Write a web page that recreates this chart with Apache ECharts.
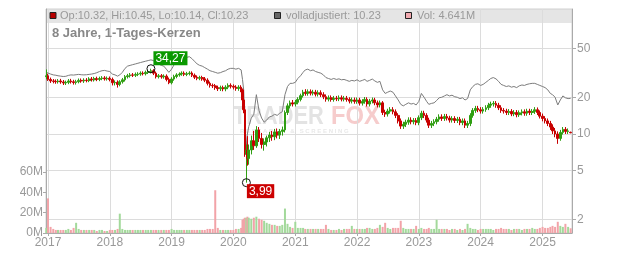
<!DOCTYPE html>
<html><head><meta charset="utf-8">
<script src="https://cdn.jsdelivr.net/npm/echarts@6/dist/echarts.min.js"></script>
<style>html,body{margin:0;padding:0;background:#fff}#c{width:632px;height:253px}</style>
</head><body><div id="c"></div>
<script>
const dates = ['2016-12-22','2017-01-01','2017-01-16','2017-02-01','2017-02-16','2017-03-01','2017-03-16','2017-04-01','2017-04-16','2017-05-01','2017-05-16','2017-06-01','2017-06-16','2017-07-01','2017-07-16','2017-08-01','2017-08-16','2017-09-01','2017-09-16','2017-10-01','2017-10-16','2017-11-01','2017-11-16','2017-12-01','2017-12-16',
'2018-01-01','2018-01-16','2018-02-01','2018-02-16','2018-03-01','2018-03-16','2018-04-01','2018-04-16','2018-05-01','2018-05-16','2018-06-01','2018-06-16','2018-07-01','2018-07-16','2018-08-01','2018-08-16','2018-09-01','2018-09-16','2018-10-01','2018-10-16','2018-11-01','2018-11-16','2018-12-01','2018-12-16',
'2019-01-01','2019-01-16','2019-02-01','2019-02-16','2019-03-01','2019-03-16','2019-04-01','2019-04-16','2019-05-01','2019-05-16','2019-06-01','2019-06-16','2019-07-01','2019-07-16','2019-08-01','2019-08-16','2019-09-01','2019-09-16','2019-10-01','2019-10-16','2019-11-01','2019-11-16','2019-12-01','2019-12-16',
'2020-01-01','2020-01-16','2020-02-01','2020-02-16','2020-02-24','2020-03-02','2020-03-09','2020-03-18','2020-03-24','2020-04-01','2020-04-16','2020-05-01','2020-05-16','2020-06-01','2020-06-16','2020-07-01','2020-07-16','2020-08-01','2020-08-16','2020-09-01','2020-09-16','2020-10-01','2020-10-16','2020-11-01','2020-11-16','2020-12-01','2020-12-16',
'2021-01-01','2021-01-16','2021-02-01','2021-02-16','2021-03-01','2021-03-16','2021-04-01','2021-04-16','2021-05-01','2021-05-16','2021-06-01','2021-06-16','2021-07-01','2021-07-16','2021-08-01','2021-08-16','2021-09-01','2021-09-16','2021-10-01','2021-10-16','2021-11-01','2021-11-16','2021-12-01','2021-12-16',
'2022-01-01','2022-01-16','2022-02-01','2022-02-16','2022-03-01','2022-03-16','2022-04-01','2022-04-16','2022-05-01','2022-05-16','2022-06-01','2022-06-16','2022-07-01','2022-07-16','2022-08-01','2022-08-16','2022-09-01','2022-09-16','2022-10-01','2022-10-16','2022-11-01','2022-11-16','2022-12-01','2022-12-16',
'2023-01-01','2023-01-16','2023-02-01','2023-02-16','2023-03-01','2023-03-16','2023-04-01','2023-04-16','2023-05-01','2023-05-16','2023-06-01','2023-06-16','2023-07-01','2023-07-16','2023-08-01','2023-08-16','2023-09-01','2023-09-16','2023-10-01','2023-10-16','2023-11-01','2023-11-16','2023-12-01','2023-12-16',
'2024-01-01','2024-01-16','2024-02-01','2024-02-16','2024-03-01','2024-03-16','2024-04-01','2024-04-16','2024-05-01','2024-05-16','2024-06-01','2024-06-16','2024-07-01','2024-07-16','2024-08-01','2024-08-16','2024-09-01','2024-09-16','2024-10-01','2024-10-16','2024-11-01','2024-11-16','2024-12-01','2024-12-16',
'2025-01-01','2025-01-16','2025-02-01','2025-02-16','2025-03-01','2025-03-16','2025-04-01','2025-04-16','2025-05-01','2025-05-16','2025-06-01','2025-06-16'];

const open = [29.5,30.0,28.0,27.2,27.0,26.8,27.2,26.7,26.2,26.5,27.2,26.8,26.4,26.8,27.5,27.2,27.6,27.4,28.2,27.8,28.4,28.0,28.5,28.8,28.3,
28.6,28.0,26.3,26.5,25.5,26.8,27.8,29.5,30.0,30.5,30.3,30.8,31.0,31.5,31.2,32.0,32.5,33.0,31.5,29.5,30.0,29.4,29.8,28.0,
26.3,28.2,29.6,30.5,31.0,31.5,30.8,31.2,31.6,30.3,29.2,28.6,29.0,28.3,27.6,26.0,25.0,24.8,24.0,23.5,24.0,23.4,24.2,25.0,
24.6,24.2,23.6,24.2,23.0,19.0,15.8,6.8,7.4,6.3,7.4,8.8,8.0,10.8,9.2,8.2,8.6,9.3,9.8,9.5,10.4,9.8,10.5,10.8,15.0,17.0,18.0,
17.6,18.2,19.2,20.6,22.0,21.5,22.2,21.6,22.0,21.2,21.8,21.0,20.2,19.3,19.8,19.2,19.6,19.4,19.8,19.3,19.6,19.2,18.6,19.0,
18.5,19.0,17.9,18.5,19.2,17.6,18.6,19.0,18.0,17.3,18.0,15.0,14.6,15.4,15.8,15.2,14.2,12.8,11.6,12.0,12.5,13.0,12.6,12.9,
12.4,13.6,14.8,14.2,13.0,11.8,12.2,12.6,13.2,13.8,13.4,13.9,13.5,13.0,13.4,12.9,13.2,12.4,12.8,11.8,12.2,14.2,15.6,16.2,
15.8,15.4,15.9,16.4,17.2,17.6,17.8,17.2,16.4,15.6,15.4,15.0,15.3,14.6,15.0,14.4,14.9,15.2,14.8,15.4,15.0,15.3,15.8,15.0,
14.0,13.4,12.8,12.2,11.4,10.6,10.0,9.2,10.3,10.9,10.5,10.32];

const high = [33.8,31.2,29.0,28.2,28.0,28.2,28.3,27.7,27.4,28.2,28.3,27.8,27.8,28.5,28.5,28.6,28.7,29.2,29.3,29.4,29.5,29.5,29.8,29.8,29.6,
29.6,29.0,27.5,27.5,27.6,28.8,30.4,31.1,31.6,31.6,31.9,32.1,32.6,32.6,33.1,33.6,34.27,34.0,32.5,31.0,31.0,30.8,30.8,29.0,
29.2,30.6,31.5,32.0,32.6,32.6,32.3,32.7,32.6,31.3,30.2,30.0,30.0,29.3,28.6,26.9,25.9,25.7,24.9,24.9,24.9,25.1,26.0,26.0,
25.5,25.1,25.1,25.1,23.6,20.2,16.2,8.2,9.6,8.2,9.7,10.6,11.6,11.4,10.2,9.2,9.7,10.4,10.6,11.0,11.1,11.0,11.5,15.6,17.8,18.8,19.0,
19.0,20.0,21.4,23.0,23.3,23.2,23.2,23.0,23.0,22.8,22.8,22.0,21.1,20.7,20.7,20.5,20.5,20.7,20.7,20.5,20.5,20.0,19.9,19.9,
19.9,19.8,19.3,20.1,20.0,19.4,19.9,19.8,18.8,18.8,18.6,15.8,16.1,16.6,16.6,15.9,14.8,13.4,12.6,13.1,13.7,13.7,13.5,13.5,
14.2,15.5,15.5,14.8,13.6,12.8,13.2,13.8,14.5,14.5,14.6,14.6,14.1,14.0,14.0,13.8,13.8,13.4,13.4,12.8,14.8,16.3,17.0,17.0,
16.6,16.6,17.2,18.0,18.4,18.6,18.6,18.0,17.2,16.3,16.1,16.0,16.0,15.7,15.7,15.6,15.9,15.9,16.1,16.1,16.0,16.6,16.5,15.6,
14.7,14.0,13.4,12.8,12.0,11.2,10.5,10.8,11.4,11.4,11.1,10.45];

const low = [28.0,27.2,26.2,26.0,25.8,25.9,25.8,25.2,25.2,25.6,25.9,25.4,25.4,26.0,26.3,26.2,26.5,26.6,26.9,26.9,27.1,27.1,27.6,27.4,27.4,
27.0,25.0,25.0,24.0,24.6,25.9,26.9,28.5,29.0,29.3,29.3,29.8,30.0,30.2,30.2,31.0,31.4,30.4,28.5,28.5,28.4,28.4,27.0,25.6,
25.5,27.3,28.6,29.5,30.0,29.8,29.8,30.2,29.3,28.2,27.6,27.6,27.3,26.6,25.0,24.0,23.8,23.0,22.5,22.5,22.4,22.4,23.3,23.6,
23.2,22.6,22.6,22.0,18.3,14.8,6.5,3.99,5.5,5.6,6.8,7.4,7.7,8.6,7.6,7.3,7.9,8.6,8.8,8.9,9.2,9.1,9.7,10.3,14.3,16.2,16.8,
16.8,17.5,18.5,19.9,20.6,20.6,20.7,20.7,20.3,20.3,20.1,19.3,18.4,18.5,18.4,18.4,18.6,18.6,18.5,18.5,18.4,17.8,17.8,17.7,
17.7,17.1,17.1,17.7,16.8,16.8,17.8,17.2,16.5,16.5,14.3,13.8,13.9,14.7,14.5,13.5,12.2,11.0,11.0,11.4,11.9,12.0,12.0,11.8,
11.8,13.0,13.5,12.4,11.2,11.2,11.6,12.0,12.6,12.8,12.8,12.9,12.4,12.4,12.3,12.3,11.8,11.8,11.2,11.2,11.6,13.6,14.9,15.1,
14.7,14.7,15.2,15.7,16.4,16.8,16.4,15.7,14.9,14.7,14.3,14.3,14.0,14.0,13.7,13.8,14.2,14.1,14.1,14.3,14.3,14.6,14.3,13.4,
12.7,12.2,11.6,10.8,10.0,9.4,8.3,8.8,9.9,10.0,10.0,10.14];

const close = [30.0,28.0,27.2,27.0,26.8,27.2,26.7,26.2,26.5,27.2,26.8,26.4,26.8,27.5,27.2,27.6,27.4,28.2,27.8,28.4,28.0,28.5,28.8,28.3,28.6,
28.0,26.3,26.5,25.5,26.8,27.8,29.5,30.0,30.5,30.3,30.8,31.0,31.5,31.2,32.0,32.5,33.0,31.5,29.5,30.0,29.4,29.8,28.0,26.3,
28.2,29.6,30.5,31.0,31.5,30.8,31.2,31.6,30.3,29.2,28.6,29.0,28.3,27.6,26.0,25.0,24.8,24.0,23.5,24.0,23.4,24.2,25.0,24.6,
24.2,23.6,24.2,23.0,19.0,15.8,7.0,7.4,6.3,7.4,8.8,8.0,10.8,9.2,8.2,8.6,9.3,9.8,9.5,10.4,9.8,10.5,10.8,15.0,17.0,18.0,17.6,
18.2,19.2,20.6,22.0,21.5,22.2,21.6,22.0,21.2,21.8,21.0,20.2,19.3,19.8,19.2,19.6,19.4,19.8,19.3,19.6,19.2,18.6,19.0,18.5,
19.0,17.9,18.5,19.2,17.6,18.6,19.0,18.0,17.3,18.0,15.0,14.6,15.4,15.8,15.2,14.2,12.8,11.6,12.0,12.5,13.0,12.6,12.9,12.4,
13.6,14.8,14.2,13.0,11.8,12.2,12.6,13.2,13.8,13.4,13.9,13.5,13.0,13.4,12.9,13.2,12.4,12.8,11.8,12.2,14.2,15.6,16.2,15.8,
15.4,15.9,16.4,17.2,17.6,17.8,17.2,16.4,15.6,15.4,15.0,15.3,14.6,15.0,14.4,14.9,15.2,14.8,15.4,15.0,15.3,15.8,15.0,14.0,
13.4,12.8,12.2,11.4,10.6,10.0,9.2,10.3,10.9,10.5,10.6,10.23];

const adjusted = [32.0,31.5,31.0,30.5,30.3,30.0,29.8,29.6,29.7,30.2,30.5,30.4,30.6,30.8,30.6,30.5,30.6,30.8,31.0,31.3,31.8,32.5,33.0,33.2,32.8,
32.5,31.0,30.5,29.8,30.5,32.0,34.5,36.0,36.5,37.0,37.5,38.0,38.5,39.0,39.5,40.0,40.5,40.0,38.0,37.5,36.5,36.0,34.0,32.0,
34.0,37.0,39.5,41.0,42.0,41.5,42.5,43.0,41.5,39.5,37.5,36.5,36.0,35.0,34.0,33.0,32.5,32.0,31.5,31.8,32.5,33.0,34.0,34.5,
34.5,34.0,34.5,33.5,28.0,23.0,12.0,8.0,10.0,11.5,13.5,14.5,21.0,15.5,13.5,12.5,13.0,13.8,14.0,14.5,14.2,14.8,15.2,21.0,24.5,26.0,26.0,
26.5,28.5,30.0,32.0,33.5,34.0,33.0,33.5,32.5,32.0,31.5,30.5,29.0,28.5,28.0,28.5,28.0,28.3,27.8,28.0,27.5,27.0,27.5,27.2,
27.8,27.0,27.5,28.0,27.0,27.5,28.2,27.2,26.5,27.0,23.0,21.5,22.0,22.5,22.0,20.5,19.0,17.5,17.0,17.5,18.0,17.6,17.8,17.3,
18.5,21.5,20.0,18.5,17.5,17.8,18.0,18.8,19.8,20.0,20.5,21.0,20.5,20.8,20.2,20.0,19.5,19.8,19.0,19.5,23.0,24.5,25.5,25.8,
25.0,25.5,26.5,27.5,28.5,29.0,28.3,27.0,25.5,25.0,24.5,24.8,24.2,24.5,24.0,24.8,25.2,25.0,25.5,25.8,26.0,26.0,25.5,25.0,
24.5,24.0,23.0,21.5,21.0,20.0,17.3,19.0,20.5,19.8,19.5,19.6];

const volumeM = [5,34,6,4,3,3,3,3,3,4,3,5,10,4,3,3,3,3,3,3,2,3,3,2,2,
3,3,3,4,19,4,3,3,3,3,3,3,3,3,3,3,3,3,3,3,3,3,3,3,
4,3,3,3,3,3,3,3,3,3,3,3,3,3,4,4,4,42,5,3,3,3,3,3,
3,4,4,5,13,14,15,15,16,15,14,15,16,14,13,12,10,9,8,8,7,7,8,24,9,6,5,
11,5,5,5,4,4,4,4,4,4,4,4,8,4,3,3,3,4,3,4,4,4,7,4,
4,4,4,4,5,5,4,4,5,8,6,10,5,4,5,5,5,12,5,4,4,4,4,7,
4,5,4,4,5,4,4,13,4,4,4,4,3,4,4,3,4,3,4,9,5,4,4,3,
4,4,4,4,4,3,4,4,5,4,4,4,3,4,4,4,3,4,4,4,5,4,4,5,
6,5,5,6,7,6,11,7,6,9,6,4.641];

const priceTicks = [2, 5, 10, 20, 50];
const volumeTicksM = [0, 20, 40, 60];
const yearTicks = ['2017','2018','2019','2020','2021','2022','2023','2024','2025'];
const axisStart = '2016-12-20';
const axisEnd = '2025-06-24';
const titleText = '8 Jahre, 1-Tages-Kerzen';
const legendOHLC = 'Op:10.32, Hi:10.45, Lo:10.14, Cl:10.23';
const legendAdj = 'volladjustiert: 10.23';
const legendVol = 'Vol: 4.641M';

const FONT = '"Liberation Sans", Arial, sans-serif';
const UP = '#2f9e12', DOWN = '#c80000';
const VUP = '#a3d99b', VDOWN = '#f2a3a8';
const ts = d => Date.parse(d + 'T00:00:00Z');
const commaFmt = v => v.toFixed(2).replace('.', ',');

const candleData = dates.map((d, i) => [ts(d), open[i], close[i], low[i], high[i]]);
const adjData = dates.map((d, i) => [ts(d), adjusted[i]]);
const volData = dates.map((d, i) => ({
  value: [ts(d), volumeM[i] * 1e6],
  itemStyle: { color: close[i] >= open[i] ? VUP : VDOWN }
}));
let hiIdx = 0, loIdx = 0;
high.forEach((v, i) => { if (v > high[hiIdx]) hiIdx = i; });
low.forEach((v, i) => { if (v < low[loIdx]) loIdx = i; });

const chart = echarts.init(document.getElementById('c'), null, { renderer: 'canvas' });
const labelStyle = { color: '#999', fontSize: 12, fontFamily: FONT };
chart.setOption({
  animation: false,
  backgroundColor: '#fff',
  grid: { left: 46, right: 60, top: 9, bottom: 20, containLabel: false, outerBoundsMode: 'none',
          show: true, borderColor: '#d0d0d0', borderWidth: 1, backgroundColor: 'transparent' },
  xAxis: {
    type: 'value', min: ts(axisStart), max: ts(axisEnd),
    axisLine: { show: true, lineStyle: { color: '#aaa' } },
    axisTick: { show: true, length: 3, lineStyle: { color: '#aaa' }, customValues: yearTicks.map(y => ts(y + '-01-01')) },
    axisLabel: Object.assign({ margin: 4, customValues: yearTicks.map(y => ts(y + '-01-01')),
      formatter: v => String(new Date(v).getUTCFullYear()) }, labelStyle),
    splitLine: { show: true, lineStyle: { color: '#dcdcdc' } }
  },
  yAxis: [
    { type: 'value', position: 'left', min: 0, max: 220e6,
      axisLine: { show: true, lineStyle: { color: '#aaa' } },
      axisTick: { show: true, length: 3, lineStyle: { color: '#aaa' }, customValues: volumeTicksM.map(v => v * 1e6) },
      axisLabel: Object.assign({ margin: 3, customValues: volumeTicksM.map(v => v * 1e6),
        formatter: v => Math.round(v / 1e6) + 'M' }, labelStyle),
      splitLine: { show: false } },
    { type: 'log', logBase: 10, position: 'right', min: 1.543, max: 105.8,
      axisLine: { show: true, lineStyle: { color: '#aaa' } },
      axisTick: { show: true, length: 4, lineStyle: { color: '#aaa' }, customValues: priceTicks },
      axisLabel: Object.assign({ margin: 5, customValues: priceTicks, formatter: v => String(Math.round(v)) }, labelStyle),
      splitLine: { show: true, lineStyle: { color: '#dcdcdc' } } }
  ],
  graphic: [
    { type: 'rect', z: -10, shape: { x: 46, y: 9, width: 526, height: 14 }, style: { fill: '#e5e5e5' } },
    { type: 'rect', z: 10, shape: { x: 50, y: 12.5, width: 6, height: 6 }, style: { fill: '#b80000', stroke: '#222', lineWidth: 1 } },
    { type: 'text', z: 10, x: 60, y: 16, style: { text: legendOHLC, fill: '#999', font: '11px ' + FONT, verticalAlign: 'middle' } },
    { type: 'rect', z: 10, shape: { x: 274.5, y: 12.5, width: 6, height: 6 }, style: { fill: '#666', stroke: '#222', lineWidth: 1 } },
    { type: 'text', z: 10, x: 286, y: 16, style: { text: legendAdj, fill: '#999', font: '11px ' + FONT, verticalAlign: 'middle' } },
    { type: 'rect', z: 10, shape: { x: 405.5, y: 12.5, width: 6, height: 6 }, style: { fill: '#f2aab0', stroke: '#222', lineWidth: 1 } },
    { type: 'text', z: 10, x: 417, y: 16, style: { text: legendVol, fill: '#999', font: '11px ' + FONT, verticalAlign: 'middle' } },
    { type: 'text', z: 10, x: 52, y: 33, style: { text: titleText, fill: '#888', font: 'bold 13px ' + FONT, verticalAlign: 'middle' } },
    { type: 'text', z: -5, x: 233, y: 117, scaleX: 0.87, style: { text: 'TRADER', fill: '#e3e3e3', font: 'bold 25px ' + FONT, verticalAlign: 'middle' } },
    { type: 'text', z: -5, x: 331, y: 117, scaleX: 0.95, style: { text: 'FOX', fill: '#f6cccc', font: 'bold 25px ' + FONT, verticalAlign: 'middle' } },
    { type: 'text', z: -5, x: 240, y: 131, style: { text: 'R E S E A R C H   &   S C R E E N I N G', fill: '#e8e8e8', font: 'bold 6px ' + FONT, verticalAlign: 'middle' } }
  ],
  series: [
    { type: 'bar', name: 'Vol', xAxisIndex: 0, yAxisIndex: 0, data: volData, barWidth: 2, z: 1, silent: true },
    { type: 'line', name: 'volladjustiert', xAxisIndex: 0, yAxisIndex: 1, data: adjData, showSymbol: false,
      lineStyle: { color: '#7c7c7c', width: 1 }, z: 2, silent: true },
    { type: 'candlestick', name: 'OHLC', xAxisIndex: 0, yAxisIndex: 1, data: candleData, barWidth: 2.2, z: 3, silent: true,
      itemStyle: { color: UP, color0: DOWN, borderColor: UP, borderColor0: DOWN, borderWidth: 1 },
      markPoint: {
        symbol: 'circle', symbolSize: 8, silent: true,
        itemStyle: { color: 'rgba(255,255,255,0)', borderColor: '#111', borderWidth: 1 },
        data: [
          { coord: [ts(dates[hiIdx]), high[hiIdx]],
            label: { show: true, formatter: commaFmt(high[hiIdx]), position: [7, -13], color: '#fff',
                     backgroundColor: '#0a9900', padding: [1, 2, 0, 2], fontSize: 12, lineHeight: 13, fontFamily: FONT } },
          { coord: [ts(dates[loIdx]), low[loIdx]],
            label: { show: true, formatter: commaFmt(low[loIdx]), position: [5, 6], color: '#fff',
                     backgroundColor: '#cc0000', padding: [1, 2, 0, 2], fontSize: 12, lineHeight: 13, fontFamily: FONT } }
        ]
      } }
  ]
});
</script></body></html>
